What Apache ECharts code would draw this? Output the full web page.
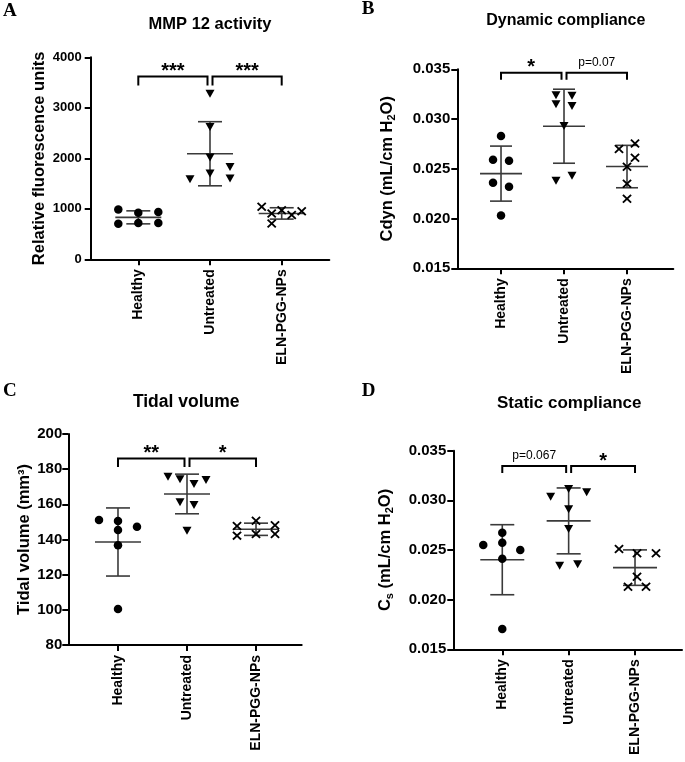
<!DOCTYPE html>
<html><head><meta charset="utf-8">
<script src="https://cdn.jsdelivr.net/npm/echarts@6/dist/echarts.min.js"></script>
<style>html,body{margin:0;padding:0;background:#fff}#c{width:685px;height:762px}</style>
</head><body><div id="c"></div>
<script>
// ---------------- DATA ----------------
const groups = ['Healthy', 'Untreated', 'ELN-PGG-NPs'];

// Panel A: MMP 12 activity (relative fluorescence units)
const mmpHealthy   = [985, 705, 920, 720, 935, 720];
const mmpUntreated = [3280, 2620, 2015, 1700, 1585, 1830, 1600];
const mmpEln       = [1040, 905, 710, 970, 875, 950];

// Panel B: Dynamic compliance (mL/cm H2O)
const cdynHealthy   = [0.0283, 0.0259, 0.0258, 0.0236, 0.0232, 0.0203];
const cdynUntreated = [0.0324, 0.0315, 0.03235, 0.0313, 0.0293, 0.0238, 0.0243];
const cdynEln       = [0.0270, 0.02755, 0.0261, 0.0252, 0.0235, 0.0220];

// Panel C: Tidal volume (mm3)
const tvHealthy   = [151.1, 150.5, 145.4, 147.3, 136.7, 100.5];
const tvUntreated = [175.7, 174.3, 171.6, 173.9, 161.2, 159.6, 145.0];
const tvEln       = [147.7, 142.2, 150.7, 143.1, 148.1, 143.1];

// Panel D: Static compliance (mL/cm H2O)
const csHealthy   = [0.02674, 0.0255, 0.02573, 0.0250, 0.02412, 0.01704];
const csUntreated = [0.03114, 0.03037, 0.03081, 0.0291, 0.02712, 0.02342, 0.02356];
const csEln       = [0.0251, 0.02467, 0.02467, 0.02231, 0.0213, 0.0213];

// Y axis tick settings
const yTicksA = {min: 0, max: 4000, interval: 1000};
const yTicksB = {min: 0.015, max: 0.035, interval: 0.005};
const yTicksC = {min: 80, max: 200, interval: 20};
const yTicksD = {min: 0.015, max: 0.035, interval: 0.005};

// Significance annotations (group index from -> to, label)
const sigA = [{from: 0, to: 1, text: '***'}, {from: 1, to: 2, text: '***'}];
const sigB = [{from: 0, to: 1, text: '*'},   {from: 1, to: 2, text: 'p=0.07'}];
const sigC = [{from: 0, to: 1, text: '**'},  {from: 1, to: 2, text: '*'}];
const sigD = [{from: 0, to: 1, text: 'p=0.067'}, {from: 1, to: 2, text: '*'}];
const sigLevelA = 3620, sigLevelB = 0.03466, sigLevelC = 186, sigLevelD = 0.03346;

// ---------------- LAYOUT / STYLE ----------------
// horizontal jitter of points in pixels (visual scatter only)
const jitA = [[-20,-20,0,0,20,20], [0,0,0,0,-20,20,20], [-20,-10,-10,0,10,20]];
const jitB = [[0,-8,8,-8,8,0], [-8,-8,8,8,0,-8,8], [-8,8,8,0,0,0]];
const jitC = [[-19,0,0,19,0,0], [-19,-7,7,19,-7,7,0], [-19,-19,0,0,19,19]];
const jitD = [[0,-19,0,18,0,0], [0,-18,18,0,0,-9,9], [-16,2,21,2,-7,11]];

const FONT = '"Liberation Sans", Arial, Helvetica, sans-serif';
const SERIF = '"Liberation Serif", "Times New Roman", serif';
const CIRCLE = 'circle';
const TRI = 'path://M0,0 L10,0 L5,9 Z';
const CROSS = 'path://M0,1.4 L1.4,0 L5,3.6 L8.6,0 L10,1.4 L6.4,5 L10,8.6 L8.6,10 L5,6.4 L1.4,10 L0,8.6 L3.6,5 Z';
const symbols = [CIRCLE, TRI, CROSS];
const symSizes = [8.5, [9, 8], [9.5, 9]];

function mean(a) { return a.reduce((s, v) => s + v, 0) / a.length; }
function sdev(a) { const m = mean(a); return Math.sqrt(a.reduce((s, v) => s + (v - m) * (v - m), 0) / (a.length - 1)); }

const panels = [
  {letter: 'A', letterPos: [3, 2], title: 'MMP 12 activity', titlePos: [210, 24], titleSize: 16.5,
   grid: {left: 90.7, top: 57.3, width: 238.6, height: 202},
   xr: [0.336, 3.664], yt: yTicksA, fmt: v => String(v), yFont: 13, yMargin: 9,
   name: 'Relative fluorescence units', nameGap: 43,
   data: [mmpHealthy, mmpUntreated, mmpEln], jit: jitA, sig: sigA, sigLevel: sigLevelA,
   meanHalf: 23, capHalf: 12, drop: 9},
  {letter: 'B', letterPos: [361.7, 0], title: 'Dynamic compliance', titlePos: [565.8, 21], titleSize: 16,
   grid: {left: 457.3, top: 69.3, width: 216, height: 199},
   xr: [0.306, 3.735], yt: yTicksB, fmt: v => v.toFixed(3), yFont: 15, yMargin: 7,
   name: '{n|Cdyn (mL/cm H}{s|2}{n|O)}', nameGap: 60,
   data: [cdynHealthy, cdynUntreated, cdynEln], jit: jitB, sig: sigB, sigLevel: sigLevelB,
   meanHalf: 21, capHalf: 11, drop: 7},
  {letter: 'C', letterPos: [3, 381.6], title: 'Tidal volume', titlePos: [186.2, 402.5], titleSize: 17.5,
   grid: {left: 68.3, top: 434, width: 233.4, height: 211},
   xr: [0.28, 3.662], yt: yTicksC, fmt: v => String(v), yFont: 15, yMargin: 6,
   name: 'Tidal volume (mm³)', nameGap: 33,
   data: [tvHealthy, tvUntreated, tvEln], jit: jitC, sig: sigC, sigLevel: sigLevelC,
   meanHalf: 23, capHalf: 12, drop: 8.5},
  {letter: 'D', letterPos: [361.7, 381.6], title: 'Static compliance', titlePos: [569.2, 403.5], titleSize: 17,
   grid: {left: 453.3, top: 450.7, width: 228.7, height: 198.6},
   xr: [0.262, 3.708], yt: yTicksD, fmt: v => v.toFixed(3), yFont: 15, yMargin: 7,
   name: '{n|C}{s|s}{n| (mL/cm H}{s|2}{n|O)}', nameGap: 58,
   data: [csHealthy, csUntreated, csEln], jit: jitD, sig: sigD, sigLevel: sigLevelD,
   meanHalf: 22, capHalf: 12, drop: 7}
];

const grid = [], xAxis = [], yAxis = [], series = [], graphic = [];
const axisLineStyle = {color: '#000', width: 2};

panels.forEach((p, pi) => {
  grid.push(Object.assign({containLabel: false}, p.grid));
  xAxis.push({
    type: 'value', gridIndex: pi, min: p.xr[0], max: p.xr[1],
    axisLine: {show: true, onZero: false, lineStyle: axisLineStyle},
    axisTick: {show: true, length: 6, lineStyle: axisLineStyle, customValues: [1, 2, 3]},
    axisLabel: {show: true, customValues: [1, 2, 3], rotate: 90, margin: 10,
      formatter: v => groups[Math.round(v) - 1] || '',
      fontFamily: FONT, fontWeight: 'bold', fontSize: 14, color: '#000'},
    splitLine: {show: false}
  });
  yAxis.push({
    type: 'value', gridIndex: pi, min: p.yt.min, max: p.yt.max, interval: p.yt.interval,
    axisLine: {show: true, lineStyle: axisLineStyle},
    axisTick: {show: true, length: 6, lineStyle: axisLineStyle},
    axisLabel: {formatter: p.fmt, fontFamily: FONT, fontWeight: 'bold', fontSize: p.yFont, color: '#000', margin: p.yMargin},
    splitLine: {show: false},
    name: p.name, nameLocation: 'middle', nameGap: p.nameGap,
    nameTextStyle: {fontFamily: FONT, fontWeight: 'bold', fontSize: 16.5, color: '#000',
      rich: {
        n: {fontFamily: FONT, fontWeight: 'bold', fontSize: 16.5, color: '#000', lineHeight: 20},
        s: {fontFamily: FONT, fontWeight: 'bold', fontSize: 11, color: '#000', lineHeight: 11, verticalAlign: 'bottom'}
      }}
  });

  // error bars (mean ± SD)
  const stats = p.data.map((arr, gi) => [gi + 1, mean(arr), sdev(arr)]);
  series.push({
    type: 'custom', xAxisIndex: pi, yAxisIndex: pi, data: stats, z: 2, silent: true,
    renderItem: (params, api) => {
      const x = api.value(0), m = api.value(1), s = api.value(2);
      const c = api.coord([x, m]), t = api.coord([x, m + s]), b = api.coord([x, m - s]);
      const st = {stroke: '#3a3a3a', lineWidth: 1.6};
      return {type: 'group', children: [
        {type: 'line', shape: {x1: c[0] - p.meanHalf, y1: c[1], x2: c[0] + p.meanHalf, y2: c[1]}, style: st},
        {type: 'line', shape: {x1: t[0], y1: t[1], x2: b[0], y2: b[1]}, style: st},
        {type: 'line', shape: {x1: t[0] - p.capHalf, y1: t[1], x2: t[0] + p.capHalf, y2: t[1]}, style: st},
        {type: 'line', shape: {x1: b[0] - p.capHalf, y1: b[1], x2: b[0] + p.capHalf, y2: b[1]}, style: st}
      ]};
    }
  });

  // points
  p.data.forEach((arr, gi) => {
    series.push({
      type: 'scatter', xAxisIndex: pi, yAxisIndex: pi, z: 3, silent: true,
      symbol: symbols[gi], symbolSize: symSizes[gi],
      itemStyle: {color: '#000', opacity: 1},
      data: arr.map((v, k) => ({value: [gi + 1, v], symbolOffset: [p.jit[gi][k], 0]}))
    });
  });

  // significance brackets
  series.push({
    type: 'custom', xAxisIndex: pi, yAxisIndex: pi, z: 4, silent: true, clip: false,
    data: p.sig.map(s => [s.from + 1, s.to + 1, p.sigLevel]),
    renderItem: (params, api) => {
      const s = p.sig[params.dataIndex];
      const a = api.coord([api.value(0), api.value(2)]);
      const b = api.coord([api.value(1), api.value(2)]);
      let x1 = a[0], x2 = b[0]; const y = a[1];
      if (s.from === 1) x1 += 2.5;
      if (s.to === 1) x2 -= 2.5;
      const isP = s.text.charAt(0) === 'p';
      return {type: 'group', children: [
        {type: 'polyline', shape: {points: [[x1, y + p.drop], [x1, y], [x2, y], [x2, y + p.drop]]},
         style: {stroke: '#000', lineWidth: 2, fill: null}},
        {type: 'text', x: (x1 + x2) / 2, y: isP ? y - 4 : y + 5,
         style: {text: s.text, align: 'center', verticalAlign: 'bottom',
           font: isP ? ('12px ' + FONT) : ('bold 20px ' + FONT), fill: '#000'}}
      ]};
    }
  });

  graphic.push({type: 'text', x: p.titlePos[0], y: p.titlePos[1],
    style: {text: p.title, align: 'center', verticalAlign: 'middle', font: 'bold ' + p.titleSize + 'px ' + FONT, fill: '#000'}});
  graphic.push({type: 'text', x: p.letterPos[0], y: p.letterPos[1],
    style: {text: p.letter, align: 'left', verticalAlign: 'top', font: 'bold 19px ' + SERIF, fill: '#000'}});
});

const chart = echarts.init(document.getElementById('c'), null, {renderer: 'canvas'});
chart.setOption({
  animation: false,
  backgroundColor: '#fff',
  grid, xAxis, yAxis, series, graphic
});
</script>
</body></html>
